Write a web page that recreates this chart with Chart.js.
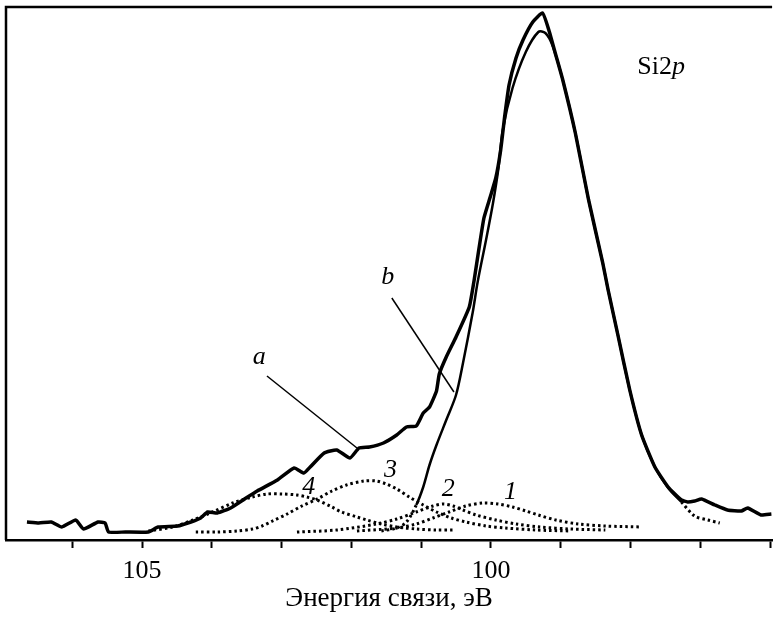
<!DOCTYPE html>
<html>
<head>
<meta charset="utf-8">
<script src="https://cdn.jsdelivr.net/npm/chart.js@4.4.1/dist/chart.umd.min.js"></script>
<style>
html, body { margin: 0; padding: 0; background: #fff; }
canvas { display: block; }
</style>
</head>
<body>
<canvas id="chartSi" width="778" height="619"></canvas>
<script>
// a - экспериментальный спектр
const energyA = [106.65, 106.48, 106.30, 106.15, 105.95, 105.84, 105.63, 105.53, 105.48, 105.24,
    104.91, 104.77, 104.49, 104.30, 104.16, 104.06, 103.92, 103.73, 103.53, 103.35,
    103.06, 102.82, 102.68, 102.59, 102.39, 102.21, 102.02, 101.89, 101.74, 101.54,
    101.35, 101.21, 101.07, 100.97, 100.88, 100.78, 100.74, 100.64, 100.50, 100.31,
    100.24, 100.17, 100.10, 100.01, 99.93, 99.86, 99.80, 99.74, 99.64, 99.54,
    99.40, 99.26, 99.17, 99.07, 98.97, 98.79, 98.60, 98.40, 98.32, 98.18,
    98.01, 97.84, 97.65, 97.46, 97.27, 97.18, 97.08, 96.98, 96.79, 96.61,
    96.41, 96.32, 96.13, 95.98];
const countsA = [18, 17, 18, 13, 20, 11, 18, 17, 8, 8,
    8, 13, 14, 18, 22, 28, 27, 32, 41, 49,
    60, 72, 67, 73, 87, 90, 82, 92, 93, 97,
    105, 113, 114, 127, 133, 149, 166, 183, 203, 233,
    260, 292, 322, 343, 362, 390, 425, 455, 482, 500,
    518, 527, 510, 485, 460, 407, 340, 278, 250, 205,
    150, 105, 73, 53, 40, 38, 39, 41, 35, 30,
    29, 32, 25, 26];

// b - основной пик (Si0)
const energyB = [101.57, 101.35, 101.21, 101.07, 100.97, 100.88, 100.78, 100.64, 100.50, 100.40,
    100.26, 100.19, 100.07, 99.97, 99.89, 99.83, 99.69, 99.50, 99.32, 99.22,
    99.12, 98.97, 98.79, 98.60, 98.40, 98.32, 98.18, 98.01, 97.84, 97.65,
    97.46, 97.27, 97.08, 96.89, 96.72];
const countsB = [9, 12, 18, 35, 53, 75, 95, 120, 145, 177,
    228, 258, 300, 337, 373, 410, 452, 488, 508, 507,
    495, 460, 407, 340, 278, 250, 205, 150, 105, 73,
    52, 38, 24, 20, 17];

// компоненты 1-4
const energy1 = [101.92, 101.35, 101.07, 100.83, 100.60, 100.36, 100.11, 99.90, 99.69, 99.50, 99.32, 99.07, 98.75, 98.36, 97.84];
const counts1 = [9, 12, 16, 22, 28, 34, 37, 36, 33, 29, 25, 20, 16, 14, 13];
const energy2 = [102.78, 102.21, 101.64, 101.35, 101.07, 100.83, 100.68, 100.54, 100.40, 100.21, 99.93, 99.64, 99.29, 98.86, 98.36];
const counts2 = [8, 10, 16, 21, 28, 34, 36, 34, 30, 25, 20, 16, 13, 11, 10];
const energy3 = [104.23, 103.92, 103.63, 103.42, 103.28, 103.13, 102.92, 102.71, 102.49, 102.28,
    102.07, 101.82, 101.64, 101.50, 101.35, 101.17, 100.97, 100.78, 100.57, 100.36,
    100.07, 99.79, 99.36, 98.86];
const counts3 = [8, 8, 9, 11, 14, 19, 26, 34, 41, 49,
    55, 59, 59, 56, 51, 43, 35, 28, 22, 18,
    14, 12, 10, 9];
const energy4 = [104.91, 104.56, 104.27, 103.99, 103.70, 103.42, 103.21, 102.99, 102.78, 102.64,
    102.49, 102.28, 102.14, 101.92, 101.78, 101.57, 101.35, 101.07, 100.78, 100.54];
const counts4 = [9, 13, 20, 28, 37, 43, 46, 46, 45, 43,
    40, 33, 28, 23, 20, 16, 13, 11, 10, 10];

// выноски и подписи (в координатах графика)
const leaderA = [[103.21, 164], [101.92, 92]];
const leaderB = [[101.42, 242], [100.53, 148]];
const labels = [
    { text: "a", x: 103.32, y: 183, italic: true },
    { text: "b", x: 101.48, y: 263, italic: true },
    { text: "4", x: 102.61, y: 53, italic: true },
    { text: "3", x: 101.44, y: 70, italic: true },
    { text: "2", x: 100.61, y: 51, italic: true },
    { text: "1", x: 99.72, y: 48, italic: true }
];
const peakLabel = { x: 97.56, y: 473 };
const tickLabels = [100, 105];

const serif = "'Liberation Serif', 'DejaVu Serif', serif";

function toPoints(xs, ys) {
    return xs.map((x, i) => ({ x: x, y: ys[i] }));
}

function dotted(xs, ys) {
    return {
        data: toPoints(xs, ys),
        borderColor: "#000",
        borderWidth: 3,
        borderDash: [2.5, 3],
        tension: 0.3
    };
}

const framePlugin = {
    id: "frame",
    afterDraw(chart) {
        const { ctx, chartArea, scales } = chart;
        ctx.save();
        ctx.strokeStyle = "#000";
        ctx.lineWidth = 2.5;
        ctx.beginPath();
        ctx.moveTo(chartArea.left, chartArea.bottom);
        ctx.lineTo(chartArea.left, chartArea.top);
        ctx.lineTo(chartArea.right, chartArea.top);
        ctx.stroke();

        ctx.fillStyle = "#000";
        ctx.textAlign = "center";
        ctx.textBaseline = "middle";
        labels.forEach(l => {
            ctx.font = (l.italic ? "italic " : "") + "26px " + serif;
            ctx.fillText(l.text, scales.x.getPixelForValue(l.x), scales.y.getPixelForValue(l.y));
        });

        // Si2p
        const px = scales.x.getPixelForValue(peakLabel.x);
        const py = scales.y.getPixelForValue(peakLabel.y);
        ctx.font = "26px " + serif;
        const w1 = ctx.measureText("Si2").width;
        ctx.font = "italic 26px " + serif;
        const w2 = ctx.measureText("p").width;
        const x0 = px - (w1 + w2) / 2;
        ctx.textAlign = "left";
        ctx.font = "26px " + serif;
        ctx.fillText("Si2", x0, py);
        ctx.font = "italic 26px " + serif;
        ctx.fillText("p", x0 + w1, py);
        ctx.restore();
    }
};

const ctx = document.getElementById("chartSi").getContext("2d");
new Chart(ctx, {
    type: "line",
    data: {
        datasets: [
            dotted(energy4, counts4),
            dotted(energy3, counts3),
            dotted(energy2, counts2),
            dotted(energy1, counts1),
            {
                data: toPoints(energyB, countsB),
                borderColor: "#000",
                borderWidth: 2.5,
                tension: 0.3,
                segment: {
                    borderDash: c => (c.p0.parsed.x > 101.1 || c.p1.parsed.x < 97.2) ? [2.5, 3] : undefined,
                    borderWidth: c => (c.p0.parsed.x > 101.1 || c.p1.parsed.x < 97.2) ? 3 : 2.5
                }
            },
            {
                data: toPoints(energyA, countsA),
                borderColor: "#000",
                borderWidth: 3.5,
                tension: 0.15
            },
            {
                data: leaderA.map(p => ({ x: p[0], y: p[1] })),
                borderColor: "#000",
                borderWidth: 1.5
            },
            {
                data: leaderB.map(p => ({ x: p[0], y: p[1] })),
                borderColor: "#000",
                borderWidth: 1.5
            }
        ]
    },
    options: {
        responsive: false,
        animation: false,
        devicePixelRatio: 1,
        layout: { padding: { left: 6, top: 7, right: 0, bottom: 0 } },
        elements: { point: { radius: 0 }, line: { fill: false } },
        plugins: { legend: { display: false }, tooltip: { enabled: false } },
        scales: {
            x: {
                type: "linear",
                reverse: true,
                min: 95.97,
                max: 106.95,
                afterFit: s => { s.height = 79; },
                border: { display: true, color: "#000", width: 2.5 },
                grid: { drawOnChartArea: false, drawTicks: true, tickLength: 8, tickWidth: 2, tickColor: "#000" },
                ticks: {
                    stepSize: 1,
                    includeBounds: false,
                    maxRotation: 0,
                    autoSkip: false,
                    padding: 8,
                    color: "#000",
                    font: { family: serif, size: 26 },
                    callback: v => tickLabels.includes(v) ? String(v) : ""
                },
                title: {
                    display: true,
                    text: "Энергия связи, эВ",
                    color: "#000",
                    font: { family: serif, size: 27 },
                    padding: { top: 0, bottom: 4 }
                }
            },
            y: { display: false, min: 0, max: 533 }
        }
    },
    plugins: [framePlugin]
});
</script>
</body>
</html>
